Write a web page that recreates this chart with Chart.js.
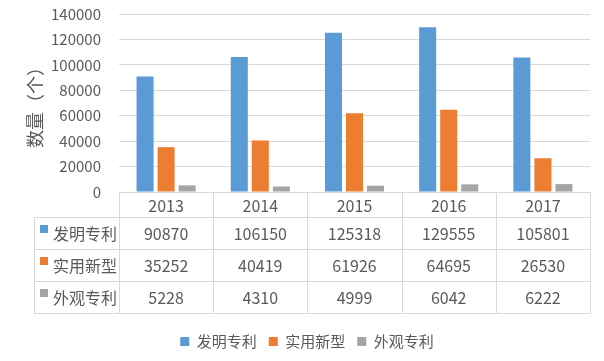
<!DOCTYPE html>
<html>
<head>
<meta charset="utf-8">
<script src="https://cdn.jsdelivr.net/npm/chart.js@4/dist/chart.umd.min.js"></script>
<style>
  html, body { margin: 0; padding: 0; background: #fff; }
  #wrap { width: 604px; height: 361px; }
</style>
</head>
<body>
<div id="wrap"><canvas id="patent-chart"></canvas></div>
<script>
const years = ['2013', '2014', '2015', '2016', '2017'];
const seriesNames = ['发明专利', '实用新型', '外观专利'];
const invention = [90870, 106150, 125318, 129555, 105801];
const utility = [35252, 40419, 61926, 64695, 26530];
const design = [5228, 4310, 4999, 6042, 6222];
const colors = ['#5B9BD5', '#ED7D31', '#A5A5A5'];

const textColor = '#595959';
const lineColor = '#D9D9D9';
const fontFamily = '"Noto Sans CJK SC", "Noto Sans", sans-serif';

// draws the data table under the plot, lined up with the x scale
const dataTable = {
    id: 'dataTable',
    afterDraw(chart) {
        const ctx = chart.ctx;
        const area = chart.chartArea;
        const x = chart.scales.x;
        const colW = (area.right - area.left) / years.length;
        const headerH = 25;
        const rowH = 32;
        const tableLeft = 34;
        const top = area.bottom;
        const rows = [invention, utility, design];
        const bottom = top + headerH + rowH * rows.length;

        ctx.save();
        ctx.strokeStyle = lineColor;
        ctx.lineWidth = 1;
        ctx.beginPath();
        ctx.moveTo(area.left, top + 0.5);
        ctx.lineTo(area.right, top + 0.5);
        for (let r = 0; r <= rows.length; r++) {
            const y = Math.round(top + headerH + rowH * r) + 0.5;
            ctx.moveTo(tableLeft, y);
            ctx.lineTo(area.right, y);
        }
        for (let c = 0; c <= years.length; c++) {
            const xx = Math.round(area.left + colW * c) + 0.5;
            ctx.moveTo(xx, top);
            ctx.lineTo(xx, bottom);
        }
        ctx.moveTo(tableLeft + 0.5, top + headerH);
        ctx.lineTo(tableLeft + 0.5, bottom);
        ctx.stroke();

        ctx.fillStyle = textColor;
        ctx.textAlign = 'center';
        ctx.textBaseline = 'middle';
        ctx.font = '16px ' + fontFamily;
        years.forEach((yr, i) => {
            ctx.fillText(yr, x.getPixelForValue(i), top + headerH / 2 + 1);
        });
        rows.forEach((vals, r) => {
            const cy = top + headerH + rowH * r + rowH / 2 + 1;
            vals.forEach((v, i) => {
                ctx.fillText(String(v), x.getPixelForValue(i), cy);
            });
            ctx.fillStyle = colors[r];
            ctx.fillRect(40, cy - 9, 8, 8);
            ctx.fillStyle = textColor;
            ctx.textAlign = 'left';
            ctx.fillText(seriesNames[r], 53, cy);
            ctx.textAlign = 'center';
        });
        ctx.restore();
    }
};

new Chart(document.getElementById('patent-chart'), {
    type: 'bar',
    data: {
        labels: years,
        datasets: [
            { label: seriesNames[0], data: invention, backgroundColor: colors[0] },
            { label: seriesNames[1], data: utility, backgroundColor: colors[1] },
            { label: seriesNames[2], data: design, backgroundColor: colors[2] }
        ]
    },
    options: {
        responsive: true,
        maintainAspectRatio: false,
        animation: false,
        categoryPercentage: 0.67,
        barPercentage: 0.81,
        layout: { padding: { left: 24, right: 14, top: 14, bottom: 2 } },
        scales: {
            x: {
                grid: { display: false },
                border: { display: false },
                ticks: { display: false },
                afterFit(scale) { scale.height = 130; }
            },
            y: {
                min: 0,
                max: 140000,
                ticks: {
                    stepSize: 20000,
                    color: textColor,
                    padding: 18,
                    font: { family: fontFamily, size: 15 },
                    callback: v => String(v)
                },
                grid: { color: lineColor, drawTicks: false },
                border: { display: false },
                title: {
                    display: true,
                    text: '数量（个）',
                    color: textColor,
                    padding: 0,
                    font: { family: fontFamily, size: 18 }
                },
                afterFit(scale) {
                    scale.width = 95;
                    scale.paddingTop = 0;
                    scale.paddingBottom = 0;
                }
            }
        },
        plugins: {
            legend: {
                position: 'bottom',
                labels: {
                    color: textColor,
                    boxWidth: 9,
                    boxHeight: 9,
                    padding: 12,
                    font: { family: fontFamily, size: 15 }
                }
            },
            tooltip: { enabled: false }
        }
    },
    plugins: [dataTable]
});
</script>
</body>
</html>
